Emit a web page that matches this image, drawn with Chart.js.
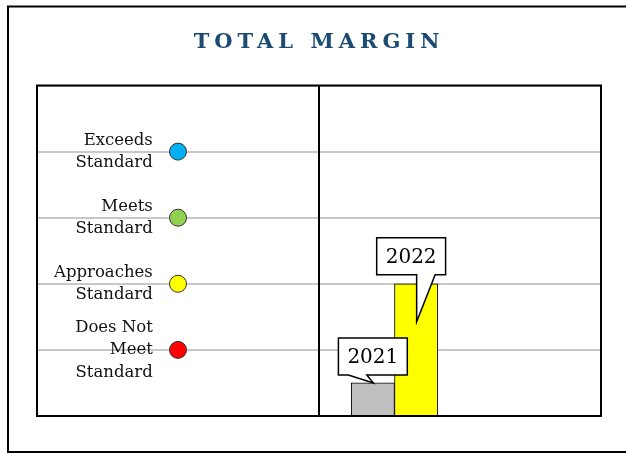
<!DOCTYPE html>
<html>
<head>
<meta charset="utf-8">
<script src="https://cdn.jsdelivr.net/npm/chart.js@4.4.1/dist/chart.umd.min.js"></script>
<style>
  html, body { margin: 0; padding: 0; background: #ffffff; }
  #wrap { position: relative; width: 626px; height: 453px; }
</style>
</head>
<body>
<div id="wrap"><canvas id="c" width="626" height="453"></canvas></div>
<script>
// ---- data ----
const chartTitle = 'TOTAL MARGIN';
const levelLabels = [['Exceeds', 'Standard'], ['Meets', 'Standard'], ['Approaches', 'Standard'], ['Does Not', 'Meet', 'Standard']];
const levelValues = [4, 3, 2, 1];
const levelColors = ['#00b0f0', '#92d050', '#ffff00', '#ff0000'];
const years = ['2021', '2022'];
const marginValues = [0.5, 2];
const barColors = ['#bfbfbf', '#ffff00'];
const panelLabels = ['levels', 'margin'];

// ---- styles (not data) ----
const serif = '"DejaVu Serif", "Liberation Serif", serif';
const calloutStyle = [
  { dx: 0,  gap: 8, tail: [-24.5, -6], tipX: 0.5, tipDy: 0 },
  { dx: -5, gap: 9, tail: [0.5, 19],   tipX: 0.5, tipDy: 38 }
];

const framePlugin = {
  id: 'frame',
  beforeDraw(chart) {
    const ctx = chart.ctx;
    ctx.save();
    ctx.strokeStyle = '#000';
    ctx.lineWidth = 2;
    ctx.strokeRect(8, 6.5, 640, 445.5);
    ctx.restore();
  },
  afterDraw(chart) {
    const a = chart.chartArea, ctx = chart.ctx;
    ctx.save();
    ctx.strokeStyle = '#000';
    ctx.lineWidth = 2;
    ctx.strokeRect(a.left, a.top, a.right - a.left, a.bottom - a.top);
    ctx.restore();
  }
};

const calloutPlugin = {
  id: 'callouts',
  afterDatasetsDraw(chart) {
    const ctx = chart.ctx;
    const meta = chart.getDatasetMeta(1);
    ctx.save();
    ctx.font = '20px ' + serif;
    meta.data.forEach((bar, i) => {
      const s = calloutStyle[i];
      const text = years[i];
      const w = ctx.measureText(text).width + 18, h = 37;
      const cx = bar.x + s.dx;
      const bottom = bar.y - s.gap;
      const top = bottom - h;
      const left = cx - w / 2, right = cx + w / 2;
      const t1 = bar.x + s.tail[0], t2 = bar.x + s.tail[1];
      const tipX = bar.x + s.tipX, tipY = bar.y + s.tipDy;
      ctx.beginPath();
      ctx.moveTo(left, top);
      ctx.lineTo(right, top);
      ctx.lineTo(right, bottom);
      ctx.lineTo(t2, bottom);
      ctx.lineTo(tipX, tipY);
      ctx.lineTo(t1, bottom);
      ctx.lineTo(left, bottom);
      ctx.closePath();
      ctx.fillStyle = '#fff';
      ctx.fill();
      ctx.lineWidth = 1.5;
      ctx.lineJoin = 'miter';
      ctx.strokeStyle = '#000';
      ctx.stroke();
      ctx.fillStyle = '#000';
      ctx.textAlign = 'center';
      ctx.textBaseline = 'middle';
      ctx.fillText(text, cx, (top + bottom) / 2 + 1);
    });
    ctx.restore();
  }
};

const chart = new Chart(document.getElementById('c'), {
  type: 'bar',
  data: {
    datasets: [
      {
        type: 'scatter',
        label: 'Levels',
        xAxisID: 'xd',
        yAxisID: 'y',
        data: levelValues.map(v => ({ x: panelLabels[0], y: v })),
        backgroundColor: levelColors,
        borderColor: '#333',
        borderWidth: 1,
        pointRadius: 8.5,
        pointHoverRadius: 8.5,
        clip: false
      },
      {
        type: 'bar',
        label: 'Total Margin',
        xAxisID: 'xb',
        yAxisID: 'y',
        data: years.map((yr, i) => ({ x: Number(yr), y: marginValues[i] })),
        backgroundColor: barColors,
        borderColor: '#000',
        borderWidth: 1,
        barThickness: 43.3
      }
    ]
  },
  options: {
    responsive: false,
    animation: false,
    devicePixelRatio: 1,
    events: [],
    layout: { padding: { left: 37, right: 25, top: 0, bottom: 37 } },
    plugins: {
      legend: { display: false },
      tooltip: { enabled: false },
      title: {
        display: true,
        text: chartTitle,
        color: '#1b4a72',
        font: { family: serif, size: 21, weight: 'bold', lineHeight: 1.2 },
        padding: { top: 30, bottom: 30.3 }
      }
    },
    scales: {
      xd: {
        type: 'category',
        labels: panelLabels,
        position: 'bottom',
        offset: true,
        grid: { offset: true, color: '#000', lineWidth: 2, drawTicks: false, z: 1 },
        border: { display: false },
        ticks: { display: false },
        afterFit(s) { s.height = 0; s.paddingLeft = 0; s.paddingRight = 0; }
      },
      xb: {
        type: 'linear',
        position: 'bottom',
        offset: false,
        bounds: 'data',
        min: 2013.744,
        max: 2026.769,
        grid: { display: false, drawTicks: false },
        border: { display: false },
        ticks: { display: false },
        afterFit(s) { s.height = 0; s.paddingLeft = 0; s.paddingRight = 0; }
      },
      y: {
        type: 'linear',
        position: 'left',
        min: 0,
        max: 5,
        grid: { color: '#c8c8c8', lineWidth: 2, drawTicks: false },
        border: { display: false },
        ticks: {
          stepSize: 1,
          autoSkip: false,
          mirror: true,
          crossAlign: 'far',
          padding: 17,
          color: '#111',
          font: { family: serif, size: 16.5, lineHeight: 1.36 },
          callback(v) {
            const k = levelValues.indexOf(v);
            return k >= 0 ? levelLabels[k] : '';
          }
        },
        afterFit(s) { s.width = 0; s.paddingTop = 0; s.paddingBottom = 0; }
      }
    }
  },
  plugins: [framePlugin, calloutPlugin]
});

// letter-spaced title
const tb = chart.titleBlock;
if (tb) {
  const origDraw = tb.draw.bind(tb);
  tb.draw = function () {
    const c = chart.ctx;
    c.save();
    c.letterSpacing = '5px';
    origDraw();
    c.restore();
  };
  chart.draw();
}
</script>
</body>
</html>
